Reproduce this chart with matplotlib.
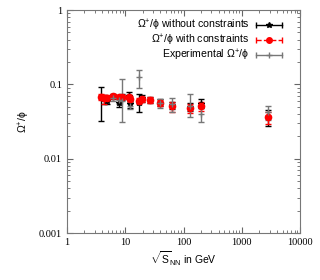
import numpy as np
import matplotlib
matplotlib.use("Agg")
import matplotlib.pyplot as plt
from matplotlib.legend_handler import HandlerBase
from matplotlib.lines import Line2D

plt.rcParams['mathtext.fontset'] = 'custom'
plt.rcParams['mathtext.rm'] = 'Liberation Sans'
plt.rcParams['mathtext.it'] = 'Liberation Sans:italic'

# energies (GeV)
energy = [3.84, 4.3, 4.9, 6.3, 7.7, 8.8, 11.5, 12.3, 17.3, 19.6, 27, 39, 62.4, 130, 200, 2760]

# Omega+/phi without constraints
ratio_nc = [0.068, 0.063, 0.060, 0.069, 0.057, 0.068, 0.070, 0.054, 0.057, 0.065, 0.061, 0.057, 0.053, 0.050, 0.054, 0.037]
lo_nc = [0.032, 0.054, 0.054, 0.063, 0.050, 0.062, 0.063, 0.049, 0.043, 0.058, 0.056, 0.051, 0.047, 0.044, 0.048, 0.028]
hi_nc = [0.093, 0.072, 0.068, 0.075, 0.065, 0.074, 0.078, 0.060, 0.075, 0.073, 0.068, 0.063, 0.059, 0.056, 0.064, 0.045]

# Omega+/phi with constraints
ratio_c = [0.068, 0.065, 0.066, 0.070, 0.068, 0.068, 0.068, 0.064, 0.060, 0.063, 0.062, 0.056, 0.051, 0.048, 0.051, 0.036]
lo_c = [0.062, 0.055, 0.060, 0.065, 0.063, 0.063, 0.063, 0.059, 0.055, 0.058, 0.057, 0.051, 0.043, 0.041, 0.044, 0.029]
hi_c = [0.074, 0.072, 0.072, 0.075, 0.073, 0.073, 0.073, 0.069, 0.065, 0.068, 0.067, 0.061, 0.058, 0.055, 0.058, 0.042]

# experimental Omega+/phi
exp_energy = [6.3, 7.7, 8.8, 12.3, 17.3, 39, 62.4, 130, 200, 2760]
exp_ratio = [0.066, 0.062, 0.060, 0.052, 0.125, 0.056, 0.055, 0.052, 0.040, 0.042]
exp_lo = [0.060, 0.055, 0.031, 0.047, 0.090, 0.049, 0.042, 0.036, 0.031, 0.033]
exp_hi = [0.073, 0.069, 0.117, 0.058, 0.157, 0.063, 0.066, 0.075, 0.049, 0.051]


def err(vals, lo, hi):
    v = np.array(vals)
    return [v - np.array(lo), np.array(hi) - v]


# gnuplot-like legend sample: horizontal line with end caps and a point in the middle
class CapLine(HandlerBase):
    def __init__(self, color, marker, ls='-', ms=4):
        super().__init__()
        self.color, self.marker, self.ls, self.ms = color, marker, ls, ms

    def create_artists(self, legend, orig_handle, xdescent, ydescent,
                       width, height, fontsize, trans):
        y = height / 2 - ydescent
        x0, x1 = -xdescent, width - xdescent
        line = Line2D([x0, x1], [y, y], color=self.color, lw=1, ls=self.ls, transform=trans)
        caps = Line2D([x0, x1], [y, y], color=self.color, lw=0, marker='|', ms=4,
                      mew=1, transform=trans)
        pt = Line2D([(x0 + x1) / 2], [y], color=self.color, lw=0, marker=self.marker,
                    ms=self.ms, transform=trans)
        return [line, caps, pt]


fig = plt.figure(figsize=(3.2, 2.8), dpi=100)
ax = fig.add_axes([0.209, 0.167, 0.729, 0.797])

h1 = ax.errorbar(energy, ratio_nc, yerr=err(ratio_nc, lo_nc, hi_nc), fmt='*', color='black',
                 ms=4, elinewidth=1, capsize=2, capthick=1)
h2 = ax.errorbar(energy, ratio_c, yerr=err(ratio_c, lo_c, hi_c), fmt='o', color='red',
                 ms=4.5, elinewidth=1, capsize=2, capthick=1, ls='none')
h2[-1][0].set_linestyle('--')
h3 = ax.errorbar(exp_energy, exp_ratio, yerr=err(exp_ratio, exp_lo, exp_hi), fmt='+', color='#777777',
                 ms=4, elinewidth=1, capsize=2, capthick=1)

ax.set_xscale('log')
ax.set_yscale('log')
ax.set_xlim(1, 10000)
ax.set_ylim(0.001, 1)
ax.set_xticks([1, 10, 100, 1000, 10000])
ax.set_xticklabels(['1', '10', '100', '1000', '10000'])
ax.set_yticks([0.001, 0.01, 0.1, 1])
ax.set_yticklabels(['0.001', '0.01', '0.1', '1'])

for lab in ax.get_xticklabels() + ax.get_yticklabels():
    lab.set_family('Liberation Serif')
    lab.set_fontsize(7.5)

ax.tick_params(which='both', direction='in', top=True, right=True, color='#666666')
ax.tick_params(which='major', length=4)
ax.tick_params(which='minor', length=2)
for s in ax.spines.values():
    s.set_color('#777777')

ax.set_xlabel(r'$\sqrt{\mathrm{S}}_{\mathrm{NN}}$ in GeV', family='Liberation Sans', fontsize=7.5, labelpad=2)
ax.set_ylabel(r'$\mathrm{\Omega^{+}/\phi}$', family='Liberation Sans', fontsize=7.5, labelpad=5)

leg = ax.legend([h1, h2, h3],
                [r'$\mathrm{\Omega^{+}/\phi}$ without constraints',
                 r'$\mathrm{\Omega^{+}/\phi}$ with constraints',
                 r'Experimental $\mathrm{\Omega^{+}/\phi}$'],
                handler_map={h1: CapLine('black', '*'),
                             h2: CapLine('red', 'o', '--'),
                             h3: CapLine('#777777', '+')},
                loc='upper right', frameon=False, markerfirst=False,
                prop={'family': 'Liberation Sans', 'size': 7.6},
                handlelength=2.5, borderaxespad=0.3, labelspacing=0.0, handletextpad=0.6,
                bbox_to_anchor=(0.955, 1.0))
for t in leg.get_texts():
    t.set_ha('right')

fig.savefig('out.png', dpi=100)
